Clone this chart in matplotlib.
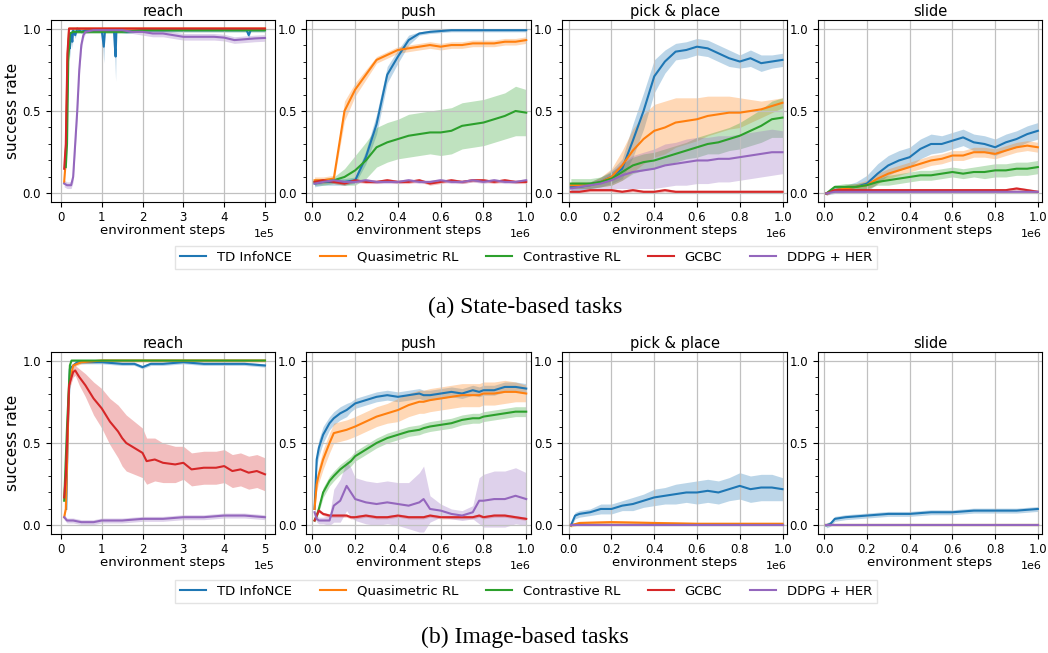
import numpy as np
import matplotlib
matplotlib.use("Agg")
import matplotlib.pyplot as plt
from matplotlib.ticker import MultipleLocator

METHODS = ["TD InfoNCE", "Quasimetric RL", "Contrastive RL", "GCBC", "DDPG + HER"]
COLORS = ["C0", "C1", "C2", "C3", "C4"]
TASKS = ["reach", "push", "pick & place", "slide"]
CAPTIONS = ["(a) State-based tasks", "(b) Image-based tasks"]

# x for 1e6-step tasks (in units of 1e6)
X21 = [0.01, 0.05, 0.10, 0.15, 0.20, 0.25, 0.30, 0.35, 0.40, 0.45, 0.50,
       0.55, 0.60, 0.65, 0.70, 0.75, 0.80, 0.85, 0.90, 0.95, 1.00]

# ---- state-based: each series is (x, mean, half-width of band)
state_reach = [  # x in units of 1e5
    ([0.10, 0.13, 0.16, 0.18, 0.20, 0.22, 0.25, 0.28, 0.30, 0.35, 0.40, 0.50, 0.60, 1.00, 1.05, 1.08, 1.10,
      1.30, 1.32, 1.34, 1.36, 1.40, 1.60, 2.0, 2.5, 3.0, 3.5, 4.0, 4.55, 4.60, 4.65, 5.0],
     [0.15, 0.30, 0.70, 0.90, 0.95, 0.88, 0.97, 0.92, 0.99, 0.96, 1.00, 0.98, 0.99, 0.99, 0.89, 0.99, 0.99,
      0.99, 0.90, 0.83, 0.99, 0.99, 0.98, 0.99, 0.99, 0.99, 0.99, 0.99, 0.99, 0.96, 0.99, 0.99],
     [0.02, 0.05, 0.08, 0.06, 0.04, 0.06, 0.03, 0.04, 0.01, 0.02, 0.01, 0.01, 0.01, 0.01, 0.10, 0.01, 0.01,
      0.01, 0.08, 0.15, 0.01, 0.01, 0.01, 0.01, 0.01, 0.01, 0.01, 0.01, 0.01, 0.02, 0.01, 0.01]),
    ([0.08, 0.12, 0.16, 0.20, 0.25, 5.0], [0.07, 0.20, 0.80, 1.00, 1.00, 1.00], [0.0] * 6),
    ([0.12, 0.15, 0.18, 0.22, 0.30, 0.50, 1.0, 1.5, 2.0, 3.0, 4.0, 5.0],
     [0.16, 0.30, 0.80, 0.97, 0.98, 0.98, 0.98, 0.98, 0.99, 0.99, 0.99, 0.99], [0.01] * 12),
    ([0.08, 0.12, 0.16, 0.20, 5.0], [0.15, 0.30, 0.85, 1.00, 1.00], [0.0] * 5),
    ([0.08, 0.15, 0.25, 0.30, 0.35, 0.40, 0.45, 0.50, 0.55, 0.60, 0.80, 1.0, 1.5, 1.75, 2.0, 2.25, 2.5,
      2.75, 3.0, 3.25, 3.5, 3.75, 4.0, 4.25, 4.5, 4.75, 5.0],
     [0.06, 0.05, 0.05, 0.10, 0.30, 0.50, 0.75, 0.90, 0.96, 0.98, 0.99, 0.99, 0.99, 0.98, 0.98, 0.97, 0.97,
      0.96, 0.95, 0.95, 0.95, 0.95, 0.945, 0.93, 0.935, 0.94, 0.943],
     [0.02, 0.02, 0.02, 0.03, 0.04, 0.04, 0.04, 0.03, 0.02, 0.01, 0.01, 0.01, 0.01, 0.01, 0.02, 0.02, 0.02,
      0.02, 0.02, 0.02, 0.02, 0.02, 0.02, 0.02, 0.02, 0.02, 0.02]),
]

state_push = [
    (X21, [0.06, 0.07, 0.07, 0.07, 0.08, 0.22, 0.42, 0.72, 0.83, 0.93, 0.97,
           0.98, 0.985, 0.99, 0.99, 0.99, 0.99, 0.99, 0.99, 0.99, 0.99],
     [0.02, 0.02, 0.02, 0.02, 0.02, 0.04, 0.06, 0.05, 0.04, 0.03, 0.01,
      0.01, 0.01, 0.01, 0.01, 0.01, 0.01, 0.01, 0.01, 0.01, 0.01]),
    (X21, [0.08, 0.08, 0.09, 0.50, 0.63, 0.72, 0.81, 0.84, 0.87, 0.88, 0.89,
           0.90, 0.89, 0.90, 0.90, 0.91, 0.91, 0.91, 0.92, 0.92, 0.93],
     [0.02, 0.02, 0.02, 0.06, 0.04, 0.03, 0.02, 0.02, 0.02, 0.02, 0.02,
      0.02, 0.02, 0.02, 0.02, 0.02, 0.02, 0.02, 0.02, 0.02, 0.02]),
    (X21, [0.07, 0.07, 0.08, 0.10, 0.14, 0.20, 0.28, 0.31, 0.33, 0.35, 0.36,
           0.37, 0.37, 0.38, 0.41, 0.42, 0.43, 0.45, 0.47, 0.50, 0.49],
     [0.02, 0.02, 0.02, 0.05, 0.09, 0.11, 0.12, 0.12, 0.12, 0.13, 0.13,
      0.13, 0.14, 0.14, 0.14, 0.14, 0.14, 0.14, 0.14, 0.15, 0.14]),
    (X21, [0.07, 0.08, 0.07, 0.06, 0.08, 0.07, 0.07, 0.08, 0.07, 0.07, 0.08,
           0.06, 0.07, 0.08, 0.07, 0.08, 0.08, 0.07, 0.08, 0.07, 0.07], [0.01] * 21),
    (X21, [0.06, 0.07, 0.08, 0.07, 0.07, 0.08, 0.07, 0.07, 0.07, 0.08, 0.07,
           0.07, 0.08, 0.07, 0.07, 0.08, 0.07, 0.08, 0.07, 0.07, 0.08], [0.01] * 21),
]

state_pick = [
    (X21, [0.04, 0.04, 0.05, 0.07, 0.10, 0.15, 0.32, 0.50, 0.71, 0.80, 0.86,
           0.87, 0.89, 0.88, 0.85, 0.82, 0.80, 0.82, 0.79, 0.80, 0.81],
     [0.02, 0.02, 0.02, 0.03, 0.04, 0.06, 0.10, 0.11, 0.10, 0.07, 0.05,
      0.05, 0.05, 0.05, 0.05, 0.05, 0.04, 0.05, 0.05, 0.04, 0.04]),
    (X21, [0.05, 0.05, 0.05, 0.07, 0.10, 0.17, 0.26, 0.33, 0.38, 0.40, 0.43,
           0.44, 0.45, 0.47, 0.48, 0.49, 0.49, 0.50, 0.51, 0.53, 0.55],
     [0.02, 0.02, 0.02, 0.03, 0.05, 0.09, 0.13, 0.15, 0.16, 0.16, 0.15,
      0.14, 0.13, 0.12, 0.11, 0.10, 0.09, 0.07, 0.05, 0.04, 0.03]),
    (X21, [0.06, 0.06, 0.06, 0.07, 0.09, 0.13, 0.17, 0.19, 0.20, 0.22, 0.24,
           0.26, 0.28, 0.30, 0.31, 0.33, 0.35, 0.38, 0.41, 0.45, 0.46],
     [0.03, 0.03, 0.03, 0.03, 0.04, 0.05, 0.05, 0.05, 0.05, 0.05, 0.05,
      0.05, 0.06, 0.06, 0.07, 0.07, 0.08, 0.09, 0.10, 0.11, 0.12]),
    (X21, [0.01, 0.01, 0.02, 0.02, 0.02, 0.01, 0.02, 0.01, 0.01, 0.02, 0.01,
           0.01, 0.01, 0.01, 0.01, 0.01, 0.01, 0.01, 0.01, 0.01, 0.01], [0.01] * 21),
    (X21, [0.03, 0.04, 0.05, 0.06, 0.08, 0.11, 0.13, 0.14, 0.15, 0.17, 0.18,
           0.19, 0.20, 0.20, 0.21, 0.21, 0.22, 0.23, 0.24, 0.25, 0.25],
     [0.02, 0.02, 0.02, 0.03, 0.05, 0.08, 0.10, 0.11, 0.12, 0.13, 0.13,
      0.14, 0.14, 0.14, 0.14, 0.14, 0.14, 0.14, 0.14, 0.14, 0.13]),
]

state_slide = [
    (X21, [0.00, 0.02, 0.03, 0.04, 0.06, 0.12, 0.17, 0.20, 0.22, 0.27, 0.30,
           0.30, 0.32, 0.34, 0.31, 0.30, 0.28, 0.31, 0.33, 0.36, 0.38],
     [0.01, 0.02, 0.02, 0.03, 0.05, 0.06, 0.06, 0.06, 0.06, 0.06, 0.06,
      0.05, 0.05, 0.05, 0.05, 0.05, 0.05, 0.05, 0.05, 0.05, 0.05]),
    (X21, [0.00, 0.02, 0.03, 0.04, 0.05, 0.09, 0.12, 0.14, 0.16, 0.18, 0.20,
           0.21, 0.23, 0.23, 0.25, 0.25, 0.24, 0.26, 0.28, 0.29, 0.28],
     [0.01, 0.01, 0.02, 0.02, 0.03, 0.03, 0.03, 0.03, 0.03, 0.03, 0.03,
      0.03, 0.03, 0.03, 0.03, 0.03, 0.03, 0.03, 0.03, 0.03, 0.03]),
    (X21, [0.00, 0.04, 0.04, 0.04, 0.05, 0.07, 0.08, 0.09, 0.10, 0.11, 0.11,
           0.12, 0.13, 0.12, 0.13, 0.13, 0.14, 0.14, 0.15, 0.15, 0.16],
     [0.01, 0.01, 0.02, 0.02, 0.02, 0.02, 0.03, 0.03, 0.03, 0.03, 0.03,
      0.03, 0.03, 0.03, 0.03, 0.04, 0.04, 0.04, 0.04, 0.04, 0.04]),
    (X21, [0.00, 0.02, 0.02, 0.02, 0.02, 0.02, 0.02, 0.02, 0.02, 0.02, 0.02,
           0.02, 0.02, 0.02, 0.02, 0.02, 0.02, 0.02, 0.03, 0.02, 0.01], [0.01] * 21),
    (X21, [0.00, 0.01, 0.01, 0.01, 0.01, 0.01, 0.01, 0.01, 0.01, 0.01, 0.01,
           0.01, 0.01, 0.01, 0.01, 0.01, 0.01, 0.01, 0.01, 0.01, 0.01], [0.005] * 21),
]

# ---- image-based
image_reach = [  # x in units of 1e5
    ([0.13, 0.17, 0.22, 0.30, 0.40, 0.60, 1.0, 1.5, 1.8, 2.0, 2.2, 2.5, 3.0, 3.5, 4.0, 4.5, 5.0],
     [0.10, 0.60, 0.95, 0.97, 0.99, 0.99, 0.99, 0.98, 0.98, 0.96, 0.98, 0.98, 0.99, 0.98, 0.98, 0.98, 0.97],
     [0.01] * 17),
    ([0.08, 0.12, 0.20, 0.30, 0.50, 1.0, 5.0], [0.05, 0.10, 0.85, 0.97, 0.99, 1.00, 1.00], [0.01] * 7),
    ([0.08, 0.15, 0.22, 0.26, 0.50, 5.0], [0.15, 0.60, 0.97, 1.00, 1.00, 1.00], [0.0] * 6),
    ([0.08, 0.12, 0.20, 0.30, 0.35, 0.45, 0.60, 0.80, 1.0, 1.2, 1.4, 1.5, 1.6, 1.8, 2.0, 2.1, 2.3, 2.5,
      2.8, 3.0, 3.2, 3.5, 3.8, 4.0, 4.2, 4.4, 4.6, 4.8, 5.0],
     [0.17, 0.30, 0.85, 0.93, 0.94, 0.90, 0.85, 0.77, 0.71, 0.63, 0.57, 0.53, 0.50, 0.47, 0.44, 0.39, 0.40,
      0.38, 0.37, 0.38, 0.34, 0.35, 0.35, 0.36, 0.33, 0.34, 0.32, 0.33, 0.31],
     [0.02, 0.03, 0.03, 0.03, 0.03, 0.05, 0.07, 0.10, 0.12, 0.14, 0.16, 0.17, 0.17, 0.16, 0.15, 0.14, 0.13,
      0.12, 0.11, 0.10, 0.10, 0.10, 0.10, 0.10, 0.10, 0.10, 0.10, 0.10, 0.10]),
    ([0.08, 0.15, 0.30, 0.50, 0.80, 1.0, 1.5, 2.0, 2.5, 3.0, 3.5, 4.0, 4.5, 5.0],
     [0.05, 0.03, 0.03, 0.02, 0.02, 0.03, 0.03, 0.04, 0.04, 0.05, 0.05, 0.06, 0.06, 0.05], [0.015] * 14),
]

XPI = [0.01, 0.02, 0.03, 0.05, 0.08, 0.10, 0.13, 0.16, 0.18, 0.20, 0.25, 0.30, 0.35, 0.40, 0.45, 0.50,
       0.52, 0.55, 0.60, 0.65, 0.70, 0.75, 0.78, 0.80, 0.85, 0.90, 0.95, 1.00]
image_push = [
    (XPI, [0.10, 0.40, 0.47, 0.55, 0.62, 0.65, 0.68, 0.70, 0.72, 0.74, 0.76, 0.78, 0.79, 0.78, 0.79, 0.80,
           0.79, 0.79, 0.80, 0.81, 0.80, 0.82, 0.81, 0.82, 0.82, 0.84, 0.84, 0.83],
     [0.02, 0.04, 0.05, 0.05, 0.04, 0.04, 0.04, 0.04, 0.03, 0.03, 0.03, 0.03, 0.03, 0.03, 0.03, 0.03,
      0.03, 0.03, 0.03, 0.03, 0.03, 0.03, 0.03, 0.03, 0.03, 0.03, 0.03, 0.03]),
    (XPI, [0.10, 0.25, 0.31, 0.40, 0.50, 0.56, 0.57, 0.58, 0.59, 0.60, 0.63, 0.66, 0.68, 0.70, 0.73, 0.75,
           0.75, 0.76, 0.77, 0.78, 0.79, 0.79, 0.79, 0.80, 0.80, 0.81, 0.81, 0.80],
     [0.02, 0.04, 0.05, 0.06, 0.06, 0.06, 0.06, 0.06, 0.06, 0.06, 0.06, 0.06, 0.06, 0.07, 0.07, 0.07,
      0.07, 0.07, 0.07, 0.07, 0.07, 0.07, 0.07, 0.07, 0.07, 0.07, 0.06, 0.05]),
    (XPI, [0.03, 0.06, 0.10, 0.20, 0.27, 0.30, 0.34, 0.37, 0.39, 0.42, 0.46, 0.50, 0.53, 0.55, 0.57, 0.58,
           0.59, 0.60, 0.61, 0.62, 0.64, 0.65, 0.65, 0.66, 0.67, 0.68, 0.69, 0.69],
     [0.01, 0.02, 0.02, 0.03, 0.03, 0.03, 0.03, 0.03, 0.03, 0.03, 0.03, 0.03, 0.03, 0.03, 0.03, 0.03,
      0.03, 0.03, 0.03, 0.03, 0.03, 0.03, 0.03, 0.03, 0.03, 0.03, 0.03, 0.03]),
    (XPI, [0.03, 0.06, 0.09, 0.07, 0.06, 0.06, 0.06, 0.06, 0.05, 0.05, 0.06, 0.05, 0.05, 0.06, 0.05, 0.05,
           0.05, 0.06, 0.05, 0.05, 0.05, 0.05, 0.06, 0.05, 0.06, 0.06, 0.05, 0.04], [0.01] * 28),
    (XPI, [0.08, 0.04, 0.03, 0.03, 0.03, 0.12, 0.15, 0.24, 0.20, 0.16, 0.14, 0.13, 0.14, 0.13, 0.12, 0.14,
           0.16, 0.10, 0.09, 0.07, 0.06, 0.08, 0.15, 0.15, 0.16, 0.16, 0.18, 0.16],
     [0.02, 0.02, 0.02, 0.02, 0.03, 0.10, 0.13, 0.15, 0.15, 0.13, 0.13, 0.13, 0.13, 0.13, 0.14, 0.18,
      0.20, 0.08, 0.04, 0.03, 0.03, 0.04, 0.14, 0.16, 0.17, 0.17, 0.17, 0.16]),
]

image_pick = [
    ([0.01, 0.03, 0.05, 0.10, 0.15, 0.20, 0.25, 0.30, 0.35, 0.40, 0.45, 0.50, 0.55, 0.60, 0.65, 0.70,
      0.75, 0.80, 0.85, 0.90, 0.95, 1.00],
     [0.00, 0.06, 0.07, 0.08, 0.10, 0.10, 0.12, 0.13, 0.15, 0.17, 0.18, 0.19, 0.20, 0.20, 0.21, 0.20,
      0.22, 0.24, 0.22, 0.23, 0.23, 0.22],
     [0.01, 0.02, 0.02, 0.02, 0.03, 0.03, 0.03, 0.04, 0.04, 0.05, 0.05, 0.06, 0.06, 0.07, 0.07, 0.07,
      0.07, 0.08, 0.08, 0.08, 0.08, 0.07]),
    ([0.01, 0.05, 0.20, 0.40, 0.60, 0.80, 1.00], [0.00, 0.015, 0.02, 0.015, 0.01, 0.01, 0.01], [0.01] * 7),
    ([0.01, 1.00], [0.0, 0.0], [0.0, 0.0]),
    ([0.01, 1.00], [0.0, 0.0], [0.0, 0.0]),
    ([0.01, 1.00], [0.0, 0.0], [0.0, 0.0]),
]

image_slide = [
    ([0.01, 0.03, 0.05, 0.10, 0.20, 0.30, 0.40, 0.50, 0.60, 0.70, 0.80, 0.90, 1.00],
     [0.00, 0.01, 0.04, 0.05, 0.06, 0.07, 0.07, 0.08, 0.08, 0.09, 0.09, 0.09, 0.10], [0.015] * 13),
    ([0.01, 1.00], [0.0, 0.0], [0.0, 0.0]),
    ([0.01, 1.00], [0.0, 0.0], [0.0, 0.0]),
    ([0.01, 1.00], [0.0, 0.0], [0.0, 0.0]),
    ([0.01, 1.00], [0.0, 0.0], [0.0, 0.0]),
]

ROWS = [[state_reach, state_push, state_pick, state_slide],
        [image_reach, image_push, image_pick, image_slide]]

W, H = 1048, 653
fig = plt.figure(figsize=(W / 100, H / 100), dpi=100)
lefts = [50.7, 306, 562.3, 817.7]
tops = [20.3, 352.3]
aw, ah = 224.5, 181.4

for r, row in enumerate(ROWS):
    for c, panel in enumerate(row):
        ax = fig.add_axes([lefts[c] / W, 1 - (tops[r] + ah) / H, aw / W, ah / H])
        scale = 1e5 if c == 0 else 1e6
        for (x, y, e), col, name in zip(panel, COLORS, METHODS):
            x = np.array(x) * scale
            y = np.array(y); e = np.array(e)
            ax.plot(x, y, color=col, lw=1.5, label=name)
            ax.fill_between(x, y - e, y + e, color=col, alpha=0.3, lw=0)
        if c == 0:
            ax.set_xlim(-0.25e5, 5.25e5)
            ax.xaxis.set_major_locator(MultipleLocator(1e5))
        else:
            ax.set_xlim(-0.03e6, 1.02e6)
            ax.xaxis.set_major_locator(MultipleLocator(0.2e6))
        ax.ticklabel_format(axis="x", style="sci", scilimits=(0, 0))
        ax.xaxis.get_offset_text().set_fontsize(8)
        ax.set_ylim(-0.05, 1.05)
        ax.set_yticks([0.0, 0.5, 1.0])
        ax.yaxis.set_minor_locator(MultipleLocator(0.1))
        ax.tick_params(labelsize=8.5)
        ax.grid(True, color="#c0c0c0", lw=0.9)
        ax.set_title(TASKS[c], fontsize=10.5, pad=3)
        ax.set_xlabel("environment steps", fontsize=9.5, labelpad=0)
        if c == 0:
            ax.set_ylabel("success rate", fontsize=11, labelpad=2)
    handles, labels = ax.get_legend_handles_labels()
    fig.legend(handles, labels, loc="center", ncol=5, fontsize=9.5, frameon=True, fancybox=False,
               edgecolor="#dddddd", columnspacing=2.1, handlelength=2.0,
               bbox_to_anchor=(0.502, 1 - (257.5 if r == 0 else 591.5) / H))
    fig.text(0.501, 1 - (307 if r == 0 else 637) / H, CAPTIONS[r], ha="center", va="center",
             fontsize=17, family="Liberation Serif")

fig.savefig("out.png", dpi=100)
